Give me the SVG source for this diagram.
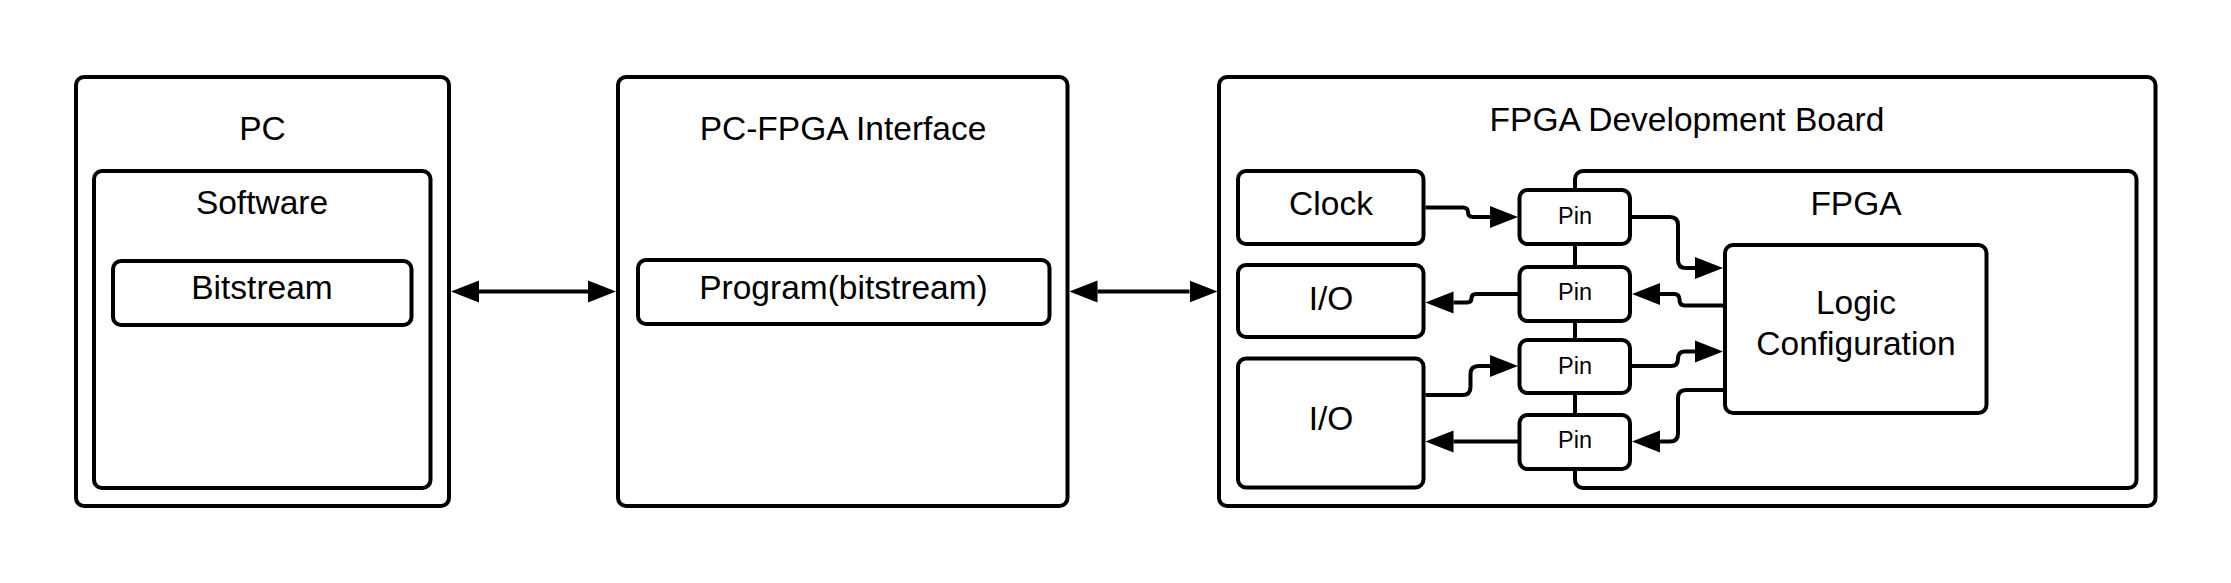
<svg xmlns="http://www.w3.org/2000/svg" width="2231" height="583" viewBox="0 0 2231 583">
<style>
.box{fill:#fff;stroke:#000;stroke-width:4}
.t{font-family:"Liberation Sans",Arial,sans-serif;font-size:33.5px;fill:#000;text-anchor:middle}
.tp{font-family:"Liberation Sans",Arial,sans-serif;font-size:23.5px;fill:#000;text-anchor:middle}
.c{fill:none;stroke:#000;stroke-width:4}
</style>
<defs>
<marker id="ah" markerUnits="userSpaceOnUse" viewBox="0 -12 28 24" refX="0" refY="0" markerWidth="28" markerHeight="24" orient="auto-start-reverse">
<path d="M0,-11 L28,0 L0,11 z" fill="#000"/>
</marker>
</defs>
<rect width="2231" height="583" fill="#fff"/>
<g id="pc"><rect class="box" x="76" y="77" width="373" height="429" rx="8"/><text class="t" x="262.5" y="139.5">PC</text></g>
<g id="software"><rect class="box" x="94" y="171" width="336.5" height="317" rx="8"/><text class="t" x="262" y="214">Software</text></g>
<g id="bitstream"><rect class="box" x="113" y="261" width="298.5" height="64" rx="8"/><text class="t" x="262" y="299">Bitstream</text></g>
<g id="interface"><rect class="box" x="618" y="77" width="449.5" height="429" rx="8"/><text class="t" x="843" y="140">PC-FPGA Interface</text></g>
<g id="program"><rect class="box" x="638" y="260" width="411.5" height="64" rx="8"/><text class="t" x="843.5" y="298.5">Program(bitstream)</text></g>
<g id="board"><rect class="box" x="1219" y="77" width="936.5" height="429" rx="8"/><text class="t" x="1687" y="130.5">FPGA Development Board</text></g>
<g id="clock"><rect class="box" x="1238" y="171" width="185.5" height="73" rx="8"/><text class="t" x="1331" y="215">Clock</text></g>
<g id="io1"><rect class="box" x="1238" y="265" width="185.5" height="72" rx="8"/><text class="t" x="1331" y="309.5">I/O</text></g>
<g id="io2"><rect class="box" x="1238" y="358.5" width="185.5" height="129" rx="8"/><text class="t" x="1331" y="429.5">I/O</text></g>
<g id="fpga"><rect class="box" x="1575" y="171" width="561.5" height="317" rx="8"/><text class="t" x="1856" y="215">FPGA</text></g>
<g id="logic"><rect class="box" x="1725" y="245" width="261.5" height="168" rx="8"/><text class="t" x="1856" y="314">Logic</text><text class="t" x="1856" y="355">Configuration</text></g>
<g id="pin1"><rect class="box" x="1519.5" y="190" width="110.5" height="54" rx="8"/><text class="tp" x="1575" y="223.5">Pin</text></g>
<g id="pin2"><rect class="box" x="1519.5" y="267" width="110.5" height="54" rx="8"/><text class="tp" x="1575" y="300">Pin</text></g>
<g id="pin3"><rect class="box" x="1519.5" y="340" width="110.5" height="53" rx="8"/><text class="tp" x="1575" y="373.5">Pin</text></g>
<g id="pin4"><rect class="box" x="1519.5" y="415" width="110.5" height="54" rx="8"/><text class="tp" x="1575" y="448">Pin</text></g>
<g id="connectors">
<path class="c" d="M479,291.5 H588" marker-start="url(#ah)" marker-end="url(#ah)"/>
<path class="c" d="M1097.5,291.5 H1189.5" marker-start="url(#ah)" marker-end="url(#ah)"/>
<path class="c" d="M1425.5,207.5 H1463 Q1468,207.5 1468,212.25 Q1468,217 1473,217 H1490" marker-end="url(#ah)"/>
<path class="c" d="M1632,217 H1670 Q1678,217 1678,225 V260 Q1678,268 1686,268 H1695" marker-end="url(#ah)"/>
<path class="c" d="M1723,305.5 H1685 Q1679.5,305.5 1679.5,299.75 Q1679.5,294 1674,294 H1660" marker-end="url(#ah)"/>
<path class="c" d="M1518,294 H1476 Q1471.5,294 1471.5,298.25 Q1471.5,302.5 1467,302.5 H1453.5" marker-end="url(#ah)"/>
<path class="c" d="M1425.5,395 H1462.5 Q1470.5,395 1470.5,387 V374 Q1470.5,366 1478.5,366 H1490" marker-end="url(#ah)"/>
<path class="c" d="M1632,366 H1671 Q1678,366 1678,358.75 Q1678,351.5 1685,351.5 H1695" marker-end="url(#ah)"/>
<path class="c" d="M1723,390 H1686 Q1678,390 1678,398 V433.5 Q1678,441.5 1670,441.5 H1660" marker-end="url(#ah)"/>
<path class="c" d="M1518,441.5 H1453.5" marker-end="url(#ah)"/>
</g>
</svg>
